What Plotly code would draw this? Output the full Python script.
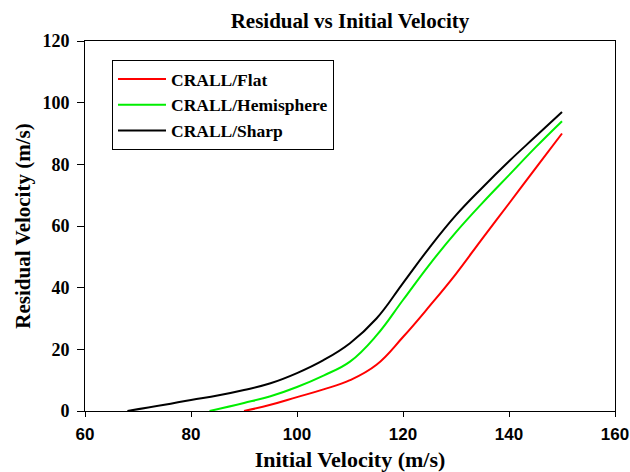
import plotly.graph_objects as go

# Data
flat_x = [90, 95, 100, 105, 110, 115, 120, 125, 130, 135, 140, 145, 150]
flat_y = [0, 2, 4.5, 7, 10, 15, 24, 34, 44.5, 56, 67.3, 78.7, 90]

hemi_x = [83.5, 90, 95, 100, 105, 110, 115, 120, 125, 130, 135, 140, 145, 150]
hemi_y = [0, 2.6, 4.8, 7.8, 11.5, 16, 24.5, 36, 47.5, 58, 67.5, 76.5, 85.5, 94]

sharp_x = [68, 75, 80, 85, 90, 95, 100, 105, 110, 115, 120, 125, 130, 135, 140, 145, 150]
sharp_y = [0, 2, 3.6, 5, 6.8, 9, 12.3, 16.5, 22, 30, 41.5, 53, 63.5, 72.5, 81, 89, 97]

series = [
    ("CRALL/Flat", flat_x, flat_y, "#ff0000"),
    ("CRALL/Hemisphere", hemi_x, hemi_y, "#00ee00"),
    ("CRALL/Sharp", sharp_x, sharp_y, "#000000"),
]

x_ticks = [60, 80, 100, 120, 140, 160]
y_ticks = [0, 20, 40, 60, 80, 100, 120]

serif = "Liberation Serif"
sans = "Liberation Sans"

L, R, T, B = 85, 15, 41, 61
pw = 630 - L - R
ph = 472 - T - B

fig = go.Figure()
for name, xs, ys, col in series:
    fig.add_trace(go.Scatter(x=xs, y=ys, name=name, mode="lines",
                             line=dict(color=col, width=2, shape="spline", smoothing=1.2)))

fig.update_layout(
    width=630, height=472,
    margin=dict(l=L, r=R, t=T, b=B),
    paper_bgcolor="white", plot_bgcolor="white",
    title=dict(text="Residual vs Initial Velocity", x=(L + 630 - R) / 2 / 630, xanchor="center",
               y=1 - 21 / 472, yanchor="middle",
               font=dict(family=serif, size=21, color="black", weight="bold")),
    legend=dict(x=(112 - L) / pw, y=(411 - 60) / ph, xanchor="left", yanchor="top",
                bordercolor="black", borderwidth=1, bgcolor="white",
                font=dict(family=serif, size=17.5, color="black", weight="bold"),
                itemwidth=48, tracegroupgap=0),
    xaxis=dict(range=[60, 160], tickvals=x_ticks, ticks="outside", ticklen=5,
               tickcolor="black", showline=True, linecolor="black", linewidth=1,
               mirror=True, showgrid=False, zeroline=False, automargin=False,
               ticklabelstandoff=3,
               tickfont=dict(family=sans, size=17, color="black", weight="bold"),
               title=dict(text="Initial Velocity (m/s)", standoff=12,
                          font=dict(family=serif, size=22, color="black", weight="bold"))),
    yaxis=dict(range=[0, 120], tickvals=y_ticks, ticks="outside", ticklen=7,
               tickcolor="black", showline=True, linecolor="black", linewidth=1,
               mirror=True, showgrid=False, zeroline=False, automargin=False,
               ticklabelstandoff=4,
               tickfont=dict(family=serif, size=18, color="black", weight="bold"),
               title=dict(text="Residual Velocity (m/s)", standoff=6,
                          font=dict(family=serif, size=21, color="black", weight="bold"))),
)

fig.write_html("out.html")
